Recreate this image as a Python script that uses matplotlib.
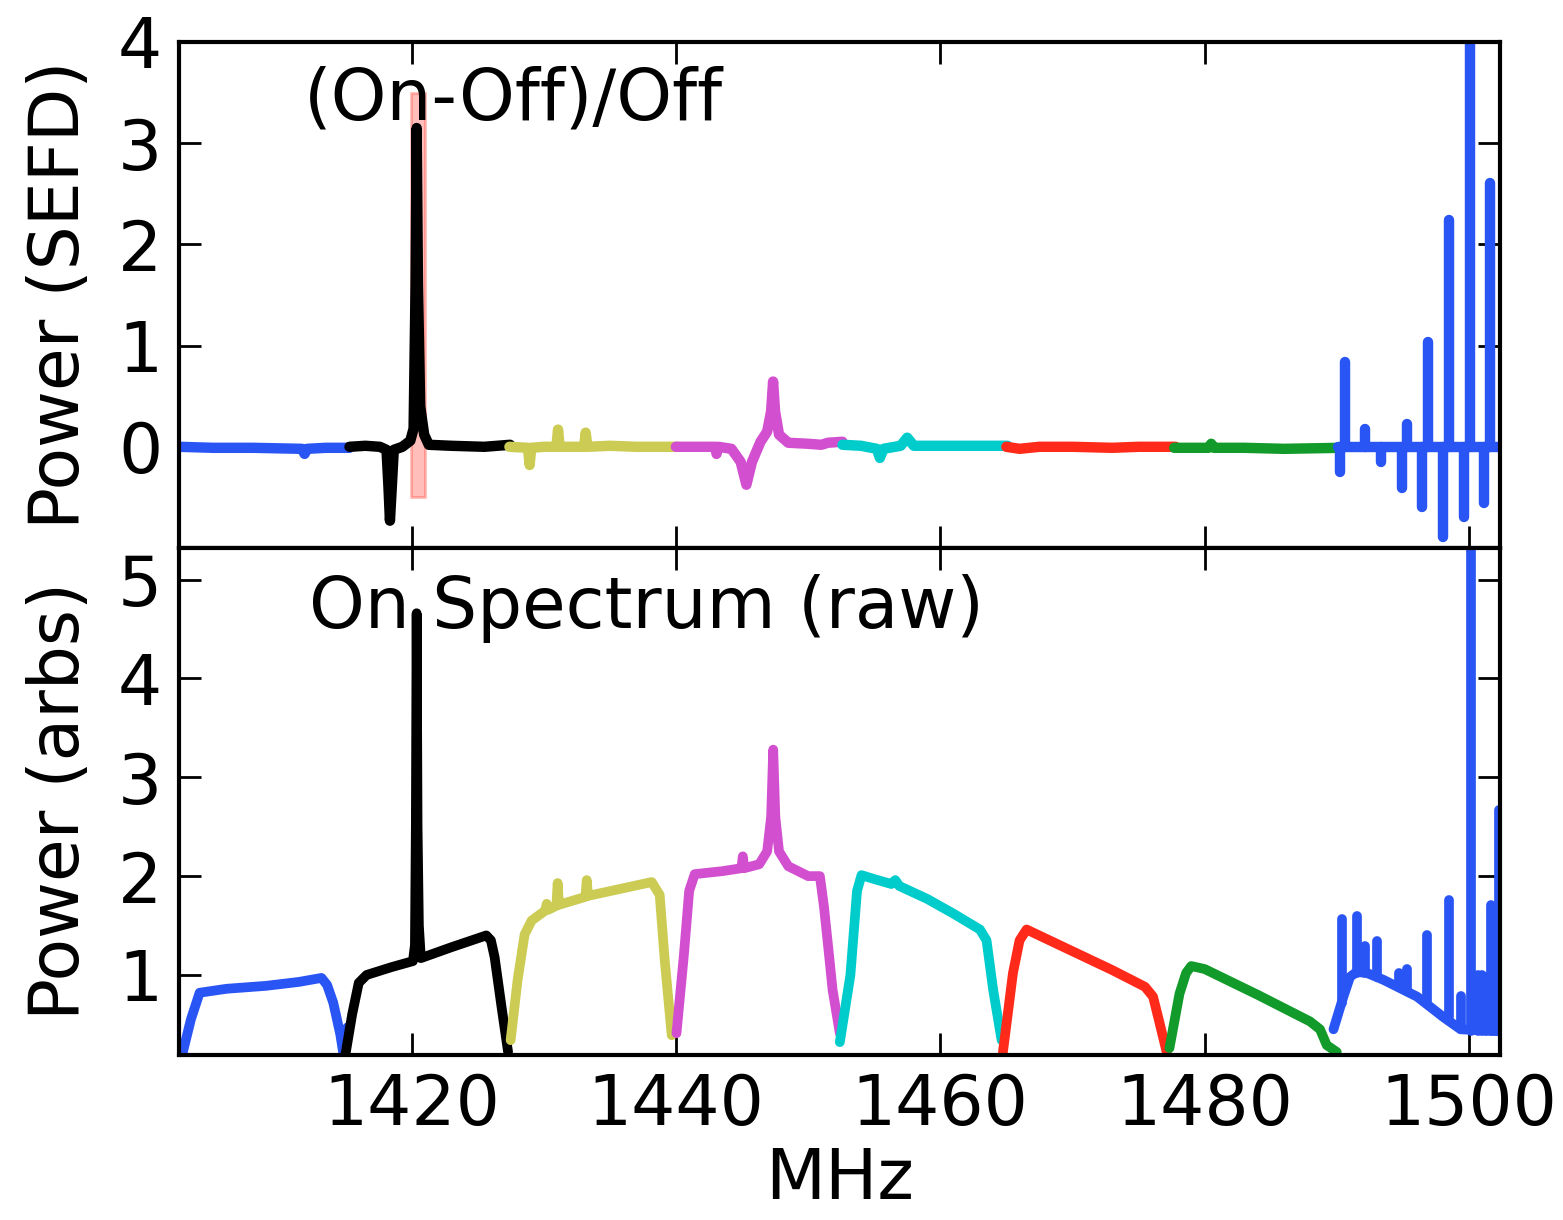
import matplotlib
matplotlib.use("Agg")
import matplotlib.pyplot as plt

# colours of the sub-bands
c_blue = '#2a55f5'
c_black = 'k'
c_yel = '#cccc55'
c_mag = '#d24fd0'
c_cyan = '#00cccc'
c_red = '#ff2a1a'
c_green = '#129a2a'

# ---- top panel: (On-Off)/Off ----
blue_lo_f_t = [1402.4, 1405.0, 1408.0, 1411.7, 1411.9, 1412.1, 1413.5, 1415.3]
blue_lo_t = [0.0, -0.01, -0.01, -0.02, -0.07, -0.02, -0.01, -0.01]

black_f_t = [1415.3, 1416.5, 1417.6, 1418.1, 1418.25, 1418.36, 1418.5, 1418.65, 1419.3, 1419.9,
             1420.15, 1420.3, 1420.38, 1420.48, 1420.65, 1420.95, 1421.3, 1423.0, 1425.5, 1427.45]
black_t = [0.0, 0.01, 0.0, -0.03, -0.4, -0.73, -0.4, -0.03, 0.0, 0.06,
           0.18, 1.6, 3.15, 1.6, 0.4, 0.12, 0.02, 0.01, 0.0, 0.02]

yellow_f_t = [1427.4, 1428.8, 1428.93, 1429.05, 1430.0, 1430.95, 1431.08, 1431.2, 1432.5,
              1433.05, 1433.17, 1433.3, 1435.0, 1437.0, 1440.1]
yellow_t = [0.0, -0.01, -0.18, -0.01, 0.0, 0.0, 0.17, 0.0, 0.0,
            0.0, 0.14, 0.0, 0.01, 0.0, 0.0]

magenta_f_t = [1440.0, 1442.0, 1443.0, 1443.07, 1443.2, 1444.2, 1444.9, 1445.33, 1445.75, 1446.4,
               1446.9, 1447.2, 1447.35, 1447.5, 1447.8, 1448.5, 1450.0, 1451.0, 1451.5, 1452.6]
magenta_t = [0.0, 0.0, 0.0, -0.07, 0.0, -0.02, -0.15, -0.375, -0.15, 0.05,
             0.15, 0.35, 0.645, 0.35, 0.12, 0.04, 0.03, 0.02, 0.04, 0.05]

cyan_f_t = [1452.6, 1454.0, 1455.2, 1455.43, 1455.7, 1457.0, 1457.5, 1458.0, 1460.0, 1462.0, 1465.1]
cyan_t = [0.02, 0.01, -0.02, -0.11, -0.02, 0.01, 0.09, 0.01, 0.01, 0.01, 0.01]

red_f_t = [1465.0, 1466.0, 1467.5, 1470.0, 1473.0, 1475.0, 1477.8]
red_t = [0.0, -0.02, 0.0, 0.0, -0.01, 0.0, 0.0]

green_f_t = [1477.7, 1480.3, 1480.5, 1480.7, 1483.0, 1486.0, 1490.3]
green_t = [-0.01, -0.01, 0.03, -0.01, -0.01, -0.02, -0.01]

blue_hi_f_t = [1490.1, 1495.0, 1502.4]
blue_hi_t = [0.0, 0.0, 0.0]
spike_f_t = [1490.23, 1490.66, 1492.17, 1493.31, 1494.95, 1495.33, 1496.46, 1496.89,
             1498.06, 1498.48, 1499.62, 1500.08, 1501.14, 1501.59]
spike_t = [-0.25, 0.84, 0.18, -0.15, -0.41, 0.23, -0.59, 1.04,
           -0.89, 2.24, -0.69, 4.5, -0.56, 2.61]

# ---- bottom panel: raw On spectrum ----
blue_lo_f_b = [1402.6, 1403.3, 1403.96, 1406.0, 1409.0, 1411.5, 1413.18, 1413.6, 1414.07, 1414.6, 1414.85, 1415.15]
blue_lo_b = [0.17, 0.55, 0.82, 0.86, 0.89, 0.93, 0.97, 0.9, 0.72, 0.4, 0.19, 0.47]

black_f_b = [1415.0, 1415.5, 1416.0, 1416.6, 1418.5, 1420.1, 1420.25, 1420.32, 1420.38, 1420.45,
             1420.55, 1420.7, 1423.0, 1425.65, 1426.0, 1426.28, 1426.8, 1427.3]
black_b = [0.2, 0.6, 0.92, 1.0, 1.08, 1.14, 1.3, 2.5, 4.66, 2.5,
           1.5, 1.17, 1.28, 1.40, 1.35, 1.18, 0.68, 0.22]

yellow_f_b = [1427.49, 1428.02, 1428.55, 1429.08, 1430.1, 1430.22, 1430.35, 1430.95, 1431.05, 1431.15,
              1433.15, 1433.25, 1433.35, 1438.17, 1438.77, 1439.15, 1439.68]
yellow_b = [0.34, 0.95, 1.41, 1.55, 1.65, 1.72, 1.66, 1.70, 1.93, 1.71,
            1.79, 1.96, 1.8, 1.94, 1.81, 1.15, 0.39]

magenta_f_b = [1440.04, 1440.6, 1441.0, 1441.42, 1443.5, 1444.95, 1445.06, 1445.17, 1446.3, 1446.9,
               1447.2, 1447.36, 1447.52, 1447.8, 1448.5, 1450.0, 1450.89, 1451.2, 1451.6, 1451.85, 1452.4]
magenta_b = [0.41, 1.2, 1.85, 2.02, 2.05, 2.08, 2.2, 2.08, 2.12, 2.25,
             2.6, 3.28, 2.6, 2.25, 2.1, 2.0, 2.0, 1.69, 1.18, 0.85, 0.41]

cyan_f_b = [1452.4, 1453.2, 1453.7, 1454.04, 1455.0, 1456.3, 1456.6, 1456.9, 1459.0, 1461.0,
            1463.0, 1463.5, 1464.0, 1464.64]
cyan_b = [0.32, 1.0, 1.85, 2.01, 1.97, 1.92, 1.96, 1.9, 1.77, 1.62,
          1.46, 1.35, 0.85, 0.34]

red_f_b = [1464.74, 1465.5, 1466.0, 1466.53, 1470.0, 1473.0, 1475.49, 1476.1, 1476.6, 1477.13]
red_b = [0.22, 1.02, 1.35, 1.46, 1.24, 1.05, 0.88, 0.78, 0.51, 0.22]

green_f_b = [1477.34, 1478.1, 1478.6, 1478.99, 1480.0, 1484.0, 1487.97, 1488.73, 1489.24, 1490.0]
green_b = [0.26, 0.81, 1.02, 1.09, 1.06, 0.8, 0.53, 0.45, 0.29, 0.22]

blue_hi_f_b = [1489.75, 1490.5, 1491.0, 1491.5, 1492.28, 1493.54, 1496.08, 1498.1, 1499.37, 1502.4]
blue_hi_b = [0.45, 0.78, 0.98, 1.03, 1.02, 0.95, 0.78, 0.57, 0.45, 0.43]
spike_f_b = [1490.38, 1491.52, 1492.15, 1493.04, 1494.68, 1495.32, 1496.84, 1498.48, 1499.37,
             1500.13, 1500.7, 1501.0, 1501.3, 1501.65, 1501.95, 1502.3]
spike_b = [1.57, 1.60, 1.29, 1.34, 1.02, 1.06, 1.40, 1.76, 0.79,
           6.0, 1.0, 1.0, 0.98, 1.71, 1.0, 2.67]
spike_base_b = [0.72, 1.02, 1.02, 0.98, 0.88, 0.84, 0.74, 0.57, 0.45,
                0.43, 0.43, 0.43, 0.43, 0.43, 0.43, 0.43]

W, H = 1563, 1220
fig = plt.figure(figsize=(W / 100, H / 100), dpi=100)
ax1 = fig.add_axes([179 / W, 1 - 548 / H, 1321 / W, 506 / H])
ax2 = fig.add_axes([179 / W, 1 - 1055 / H, 1321 / W, 507 / H], sharex=ax1)

kw = dict(lw=7.5, solid_capstyle='round', solid_joinstyle='round')

# top
ax1.plot(blue_lo_f_t, blue_lo_t, color=c_blue, **kw)
ax1.plot(black_f_t, black_t, color=c_black, **kw)
ax1.bar(1420.5, 4.0, bottom=-0.5, width=1.1, color=c_red, alpha=0.3, edgecolor=c_red, lw=2)
ax1.plot(yellow_f_t, yellow_t, color=c_yel, **kw)
ax1.plot(magenta_f_t, magenta_t, color=c_mag, **kw)
ax1.plot(cyan_f_t, cyan_t, color=c_cyan, **kw)
ax1.plot(red_f_t, red_t, color=c_red, **kw)
ax1.plot(green_f_t, green_t, color=c_green, **kw)
ax1.plot(blue_hi_f_t, blue_hi_t, color=c_blue, **kw)
vl = ax1.vlines(spike_f_t, 0, spike_t, colors=c_blue, lw=7.5)
vl.set_capstyle('round')

# bottom
kw2 = dict(lw=7, solid_capstyle='round', solid_joinstyle='round')
ax2.plot(blue_lo_f_b, blue_lo_b, color=c_blue, **kw2)
ax2.plot(black_f_b, black_b, color=c_black, **kw2)
ax2.plot(yellow_f_b, yellow_b, color=c_yel, **kw2)
ax2.plot(magenta_f_b, magenta_b, color=c_mag, **kw2)
ax2.plot(cyan_f_b, cyan_b, color=c_cyan, **kw2)
ax2.plot(red_f_b, red_b, color=c_red, **kw2)
ax2.plot(green_f_b, green_b, color=c_green, **kw2)
ax2.plot(blue_hi_f_b, blue_hi_b, color=c_blue, **kw2)
vl2 = ax2.vlines(spike_f_b, spike_base_b, spike_b, colors=c_blue, lw=7)
vl2.set_capstyle('round')

ax1.set_xlim(1402.4, 1502.35)
ax1.set_ylim(-1, 4)
ax1.set_yticks([0, 1, 2, 3, 4])
ax2.set_ylim(0.19, 5.32)
ax2.set_yticks([1, 2, 3, 4, 5])
ax2.set_xticks([1420, 1440, 1460, 1480, 1500])

for ax in (ax1, ax2):
    ax.tick_params(direction='in', top=True, right=True, length=16, width=2,
                   labelsize=50, pad=12)
    for s in ax.spines.values():
        s.set_linewidth(3)
ax1.tick_params(labelbottom=False)

ax1.set_ylabel('Power (SEFD)', fontsize=50, labelpad=18)
ax2.set_ylabel('Power (arbs)', fontsize=50, labelpad=18)
ax2.set_xlabel('MHz', fontsize=50, labelpad=5)

ax1.text(0.0946, 0.846, '(On-Off)/Off', transform=ax1.transAxes, fontsize=51, va='baseline')
ax2.text(0.0984, 0.842, 'On Spectrum (raw)', transform=ax2.transAxes, fontsize=51, va='baseline')

fig.savefig('out.png', dpi=100)
